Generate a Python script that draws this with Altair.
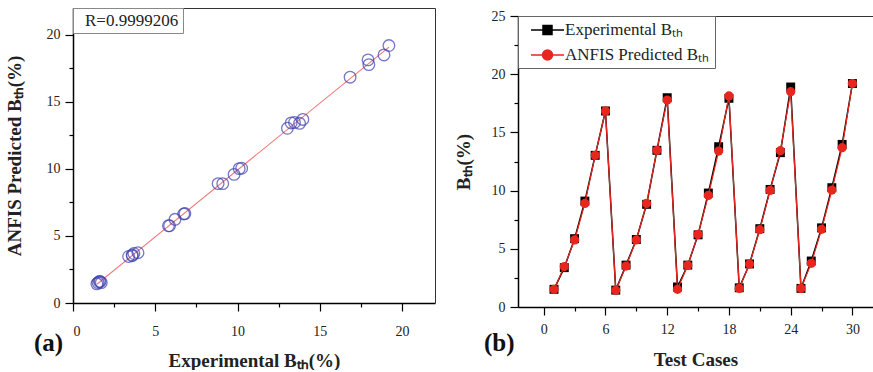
import altair as alt
import pandas as pd

# Thermal efficiency (B_th, %) for the 30 test cases
cases = list(range(1, 31))
experimental = [1.52, 3.38, 5.87, 9.10, 13.03, 16.84, 1.45, 3.60, 5.80, 8.82,
                13.46, 17.98, 1.72, 3.60, 6.20, 9.79, 13.77, 17.93, 1.65, 3.70,
                6.73, 10.10, 13.26, 18.90, 1.60, 3.95, 6.80, 10.25, 13.97, 19.20]
predicted = [1.52, 3.47, 5.76, 8.90, 13.03, 16.84, 1.43, 3.52, 5.76, 8.90,
             13.46, 17.78, 1.52, 3.58, 6.24, 9.59, 13.40, 18.13, 1.60, 3.69,
             6.64, 10.02, 13.43, 18.50, 1.60, 3.75, 6.67, 10.05, 13.69, 19.20]

series_names = ["Experimental Bₜₕ", "ANFIS Predicted Bₜₕ"]
r_text = "R=0.9999206"

left_ticks = [0, 2.5, 5, 7.5, 10, 12.5, 15, 17.5, 20]
right_x_ticks = [0, 3, 6, 9, 12, 15, 18, 21, 24, 27, 30]
right_y_ticks = [0, 2.5, 5, 7.5, 10, 12.5, 15, 17.5, 20, 22.5, 25]

SERIF = "Liberation Serif"
RED = "#e8261e"
BLUE = "#3f3fae"
FIT = "#f27a7a"

scatter_df = pd.DataFrame({"experimental": experimental, "predicted": predicted})
long_df = pd.DataFrame({
    "case": cases * 2,
    "value": experimental + predicted,
    "series": [series_names[0]] * 30 + [series_names[1]] * 30,
})


def main_axis(values, major_mod, title, orient, label_pad, title_pad):
    major = f"datum.value % {major_mod} === 0"
    return alt.Axis(
        values=values,
        orient=orient,
        title=title,
        grid=False,
        labelExpr=f"{major} ? datum.label : ''",
        tickSize={"condition": {"test": major, "value": 8}, "value": 4},
        tickColor="black",
        tickWidth=1.2,
        domainColor="black",
        domainWidth=1.5,
        labelFont=SERIF,
        labelFontSize=14,
        labelColor="#222",
        labelPadding=label_pad,
        titleFont=SERIF,
        titleFontSize=19,
        titleFontWeight="bold",
        titleColor="#222",
        titlePadding=title_pad,
    )


def frame_axis(orient):
    return alt.Axis(orient=orient, title=None, labels=False, ticks=False,
                    grid=False, domainColor="#333", domainWidth=1)


def panel_label(text, dx, dy):
    return alt.TitleParams(text, orient="bottom", anchor="start", font=SERIF,
                           fontSize=25, fontWeight="bold", color="#111",
                           dx=dx, dy=dy)


# ---- (a) regression scatter ----
lx = alt.Scale(domain=[0, 22], nice=False, zero=False)
ly = alt.Scale(domain=[0, 22], nice=False, zero=False)

circles = alt.Chart(scatter_df).mark_point(
    shape="circle", size=135, strokeWidth=1.3, color=BLUE, filled=False
).encode(
    x=alt.X("experimental:Q", scale=lx,
            axis=main_axis(left_ticks, 5, "Experimental Bₜₕ(%)", "bottom", 13, 13)),
    y=alt.Y("predicted:Q", scale=ly,
            axis=main_axis(left_ticks, 5, "ANFIS Predicted Bₜₕ(%)", "left", 5, 22)),
)

fit = alt.Chart(scatter_df).transform_regression(
    "experimental", "predicted"
).mark_line(color=FIT, strokeWidth=1.1).encode(
    x=alt.X("experimental:Q", scale=lx, axis=frame_axis("top")),
    y=alt.Y("predicted:Q", scale=ly, axis=frame_axis("right")),
)

r_note = alt.Chart(pd.DataFrame({"note": [r_text]})).transform_filter(
    "false"
).mark_point(opacity=0).encode(
    color=alt.Color("note:N", scale=alt.Scale(domain=[r_text], range=["white"]),
                    legend=alt.Legend(title=None, orient="top-left", offset=0,
                                      symbolSize=0, symbolOpacity=0,
                                      labelOffset={"expr": "-9"},
                                      padding=4, strokeColor="#888", fillColor="white",
                                      labelFont=SERIF, labelFontSize=17,
                                      labelColor="#222")),
)

left = alt.layer(fit, circles, r_note).resolve_axis(
    x="independent", y="independent"
).properties(width=362, height=295, title=panel_label("(a)", 29, -43))

# ---- (b) experimental vs predicted per test case ----
rx = alt.Scale(domain=[-2.5, 32.0], nice=False, zero=False)
ry = alt.Scale(domain=[0, 25], nice=False, zero=False)

x_plain = alt.X("case:Q", scale=rx, axis=None)
y_plain = alt.Y("value:Q", scale=ry, axis=None)

exp_only = f"datum.series === '{series_names[0]}'"
pred_only = f"datum.series === '{series_names[1]}'"

exp_line = alt.Chart(long_df).transform_filter(exp_only).mark_line(
    color="black", strokeWidth=1.5
).encode(
    x=alt.X("case:Q", scale=rx,
            axis=main_axis(right_x_ticks, 6, "Test Cases", "bottom", 7, 14)),
    y=alt.Y("value:Q", scale=ry,
            axis=main_axis(right_y_ticks, 5, "Bₜₕ(%)", "left", 5, 18)),
)

exp_pts = alt.Chart(long_df).transform_filter(exp_only).mark_point(
    shape="square", size=80, filled=True, color="black", opacity=1
).encode(
    x=alt.X("case:Q", scale=rx, axis=frame_axis("top")),
    y=y_plain,
)

pred_line = alt.Chart(long_df).transform_filter(pred_only).mark_line(
    color=RED, strokeWidth=1.2
).encode(x=x_plain, y=y_plain)

pred_pts = alt.Chart(long_df).transform_filter(pred_only).mark_point(
    shape="circle", size=85, filled=True, color=RED, opacity=1
).encode(x=x_plain, y=y_plain)

# legend glyphs: a line segment with the marker on it (symbol box is 16 px, 8 px per unit)
square_path = "M-0.125,0H4.0M1.375,-0.5625H2.5V0.5625H1.375Z"
circle_path = ("M-0.125,0H4.0M1.3125,0A0.625,0.625,0,1,1,2.5625,0"
               "A0.625,0.625,0,1,1,1.3125,0Z")

series_legend = alt.Legend(title=None, orient="top-left", offset=0, padding=5,
                           strokeColor="#666", fillColor="white",
                           symbolSize=256, symbolStrokeWidth=1.5,
                           labelOffset=24, rowPadding=8,
                           labelFont=SERIF, labelFontSize=17, labelColor="#222")

legend_layer = alt.Chart(long_df).transform_filter("false").mark_point(
    filled=True, opacity=1
).encode(
    fill=alt.Fill("series:N", scale=alt.Scale(domain=series_names, range=["black", RED]),
                  legend=series_legend),
    stroke=alt.Stroke("series:N", scale=alt.Scale(domain=series_names, range=["black", RED]),
                      legend=series_legend),
    shape=alt.Shape("series:N", scale=alt.Scale(domain=series_names,
                                                range=[square_path, circle_path]),
                    legend=series_legend),
)

right_plot = alt.layer(exp_line, exp_pts, pred_line, pred_pts, legend_layer).resolve_axis(
    x="independent", y="independent"
).properties(width=355, height=291, title=panel_label("(b)", 30, -42))

# thin empty strip that lowers panel (b) a few pixels
strip = alt.Chart(pd.DataFrame({"v": [0]})).transform_filter("false").mark_point().properties(
    width=355, height=1
)
right = alt.vconcat(strip, right_plot, spacing=0).resolve_scale(
    fill="independent", stroke="independent", shape="independent"
).resolve_legend(
    fill="independent", stroke="independent", shape="independent"
)

chart = alt.hconcat(left, right, spacing=19).resolve_scale(
    color="independent", fill="independent", stroke="independent", shape="independent"
).resolve_legend(
    color="independent", fill="independent", stroke="independent", shape="independent"
).properties(
    padding={"left": 5, "top": 7, "right": 0, "bottom": 0},
    background="white",
).configure_view(stroke=None)

chart.save("out.html", embed_options={"renderer": "svg", "actions": False})
